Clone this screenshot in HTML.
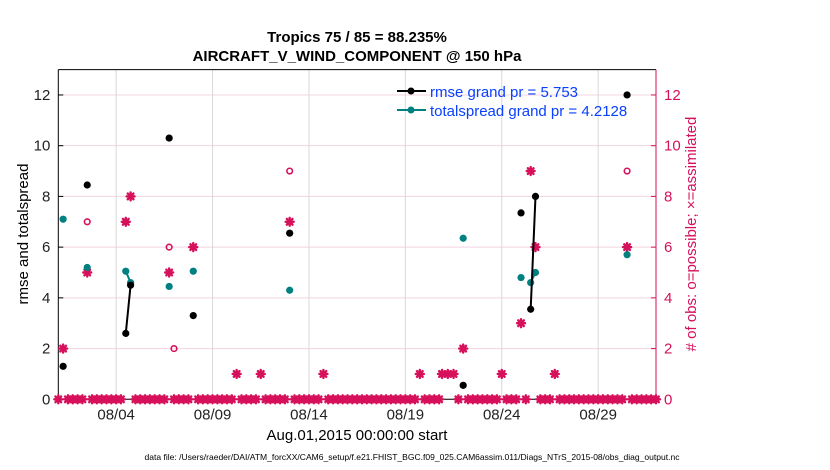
<!DOCTYPE html>
<html><head><meta charset="utf-8"><style>
body{margin:0;background:#fff;}
svg{display:block;font-family:"Liberation Sans",sans-serif;}
</style></head><body>
<svg id="chart" width="830" height="470" viewBox="0 0 830 470" xmlns="http://www.w3.org/2000/svg">
<text x="357" y="42" text-anchor="middle" font-size="15" font-weight="bold">Tropics 75 / 85 = 88.235%</text>
<text x="357" y="61" text-anchor="middle" font-size="15" font-weight="bold">AIRCRAFT_V_WIND_COMPONENT @ 150 hPa</text>
<g id="grid"></g>
<g id="axes"></g>
<g id="marks"></g>
<text transform="translate(28,234) rotate(-90)" text-anchor="middle" font-size="15">rmse and totalspread</text>
<text transform="translate(696,234) rotate(-90)" text-anchor="middle" font-size="15" fill="#d6105a"># of obs: o=possible; ×=assimilated</text>
<text x="357" y="440" text-anchor="middle" font-size="15">Aug.01,2015 00:00:00 start</text>
<text x="412" y="460" text-anchor="middle" font-size="8.5" textLength="535" lengthAdjust="spacingAndGlyphs">data file: /Users/raeder/DAI/ATM_forcXX/CAM6_setup/f.e21.FHIST_BGC.f09_025.CAM6assim.011/Diags_NTrS_2015-08/obs_diag_output.nc</text>
<g>
<line x1="397" y1="91" x2="426" y2="91" stroke="#000" stroke-width="2"/>
<circle cx="411" cy="91" r="3.5" fill="#000"/>
<text x="430" y="97" font-size="15" fill="#0a40ff">rmse grand pr = 5.753</text>
<line x1="397" y1="110" x2="426" y2="110" stroke="#008080" stroke-width="2"/>
<circle cx="411" cy="110" r="3.5" fill="#008080"/>
<text x="430" y="116" font-size="15" fill="#0a40ff">totalspread grand pr = 4.2128</text>
</g>
</svg>
<script>
// data (days since Aug 01 00:00)
const rmseTimes = [0.25,1.5,3.5,3.75,5.75,7.0,12.0,21.0,24.0,24.5,24.75,29.5];
const rmseValues = [1.3,8.45,2.6,4.5,10.3,3.3,6.55,0.55,7.35,3.55,8.0,12.0];
const spreadTimes = [0.25,1.5,3.5,3.75,5.75,7.0,12.0,21.0,24.0,24.5,24.75,29.5];
const spreadValues = [7.1,5.2,5.05,4.6,4.45,5.05,4.3,6.35,4.8,4.6,5.0,5.7];
const possibleTimes = [1.5,5.75,6.0,12.0,29.5];
const possibleValues = [7,6,2,9,9];
const usedTimes = [0.25,1.5,3.5,3.75,5.75,7.0,9.25,10.5,12.0,13.75,18.75,19.9,20.2,20.5,21.0,23.0,24.0,24.5,24.75,25.75,29.5];
const usedValues = [2,5,7,8,5,6,1,1,7,1,1,1,1,1,2,1,3,9,6,1,6];
const xTickDays = [3,8,13,18,23,28];
const xTickLabels = ["08/04","08/09","08/14","08/19","08/24","08/29"];
const yTicks = [0,2,4,6,8,10,12];

const X0=58.3, X1=656, Y0=399.3, Y1=69.6, DMAX=31, VMAX=13;
const sx = d => X0 + d*(X1-X0)/DMAX;
const sy = v => Y0 - v*(Y0-Y1)/VMAX;
const NS="http://www.w3.org/2000/svg";
function mk(tag, attrs, parent){const e=document.createElementNS(NS,tag);for(const k in attrs)e.setAttribute(k,attrs[k]);parent.appendChild(e);return e;}
const grid=document.getElementById('grid'), axes=document.getElementById('axes'), marks=document.getElementById('marks');
const PINK="#d6105a";

mk('rect',{x:X0,y:Y1,width:X1-X0,height:Y0-Y1,fill:'#fff'},grid);
yTicks.forEach(v=>{
  const l=mk('line',{x1:X0,x2:X1,y1:sy(v),y2:sy(v),stroke:'#f3d3e0','stroke-width':1},grid);
  
  
  const t=mk('text',{x:X0-8,y:sy(v)+5,'text-anchor':'end','font-size':15,fill:'#222'},axes);
  t.textContent=v;
  
  
  const t2=mk('text',{x:X1+8,y:sy(v)+5,'text-anchor':'start','font-size':15,fill:PINK},axes);
  t2.textContent=v;
  
  
  mk('line',{x1:X0,x2:X0+5,y1:sy(v),y2:sy(v),stroke:'#000'},axes);
  mk('line',{x1:X1,x2:X1-5,y1:sy(v),y2:sy(v),stroke:PINK},axes);
});
xTickDays.forEach((d,i)=>{
  const l=mk('line',{x1:sx(d),x2:sx(d),y1:Y1,y2:Y0,stroke:'#d8d8d8','stroke-width':1},grid);
  
  
  const t=mk('text',{x:sx(d),y:Y0+20,'text-anchor':'middle','font-size':15,fill:'#222'},axes);
  t.textContent=xTickLabels[i];
  
  
});
mk('line',{x1:X0,x2:X1,y1:Y1,y2:Y1,stroke:'#000'},axes);
mk('line',{x1:X0,x2:X1,y1:Y0,y2:Y0,stroke:'#000'},axes);
mk('line',{x1:X0,x2:X0,y1:Y1,y2:Y0,stroke:'#000'},axes);
mk('line',{x1:X1,x2:X1,y1:Y1,y2:Y0,stroke:PINK},axes);

function star(x,y,name){
  const g=mk('g',{stroke:PINK,'stroke-width':2.4,'stroke-linecap':'round'},marks);
  
  
  for(let a=0;a<180;a+=45){const r=a*Math.PI/180, dx=4*Math.cos(r), dy=4*Math.sin(r);
    mk('line',{x1:x-dx,y1:y-dy,x2:x+dx,y2:y+dy},g);}
  mk('circle',{cx:x,cy:y,r:3,fill:PINK,stroke:'none'},g);
}
for(let i=0;i<=DMAX*4;i++){
  const d=i/4;
  if(usedTimes.some(t=>Math.abs(t-d)<0.13)) continue;
  star(sx(d),sy(0),'assimilated-zero-marker');
}
usedTimes.forEach((d,i)=>star(sx(d),sy(usedValues[i]),'assimilated-marker'));
possibleTimes.forEach((d,i)=>{
  const c=mk('circle',{cx:sx(d),cy:sy(possibleValues[i]),r:2.8,fill:'none',stroke:PINK,'stroke-width':1.6},marks);
  
  
});
function series(times,vals,color,name){
  for(let i=1;i<times.length;i++){
    if(times[i]-times[i-1]<=0.26){
      const l=mk('line',{x1:sx(times[i-1]),y1:sy(vals[i-1]),x2:sx(times[i]),y2:sy(vals[i]),stroke:color,'stroke-width':2},marks);
      
      
    }
  }
  times.forEach((d,i)=>{
    const c=mk('circle',{cx:sx(d),cy:sy(vals[i]),r:3.6,fill:color},marks);
    
    
  });
}
series(spreadTimes,spreadValues,'#008080','totalspread');
series(rmseTimes,rmseValues,'#000','rmse');
</script>
</body></html>
